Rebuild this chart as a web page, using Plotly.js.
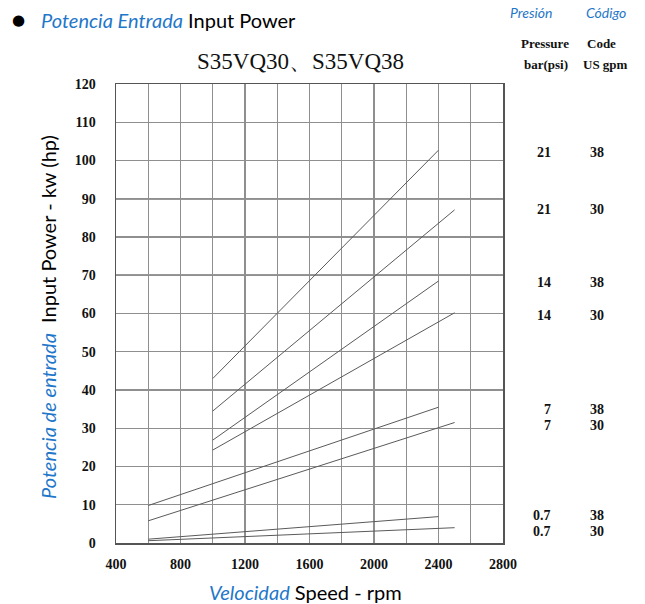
<!DOCTYPE html>
<html>
<head>
<meta charset="utf-8">
<script src="https://cdn.plot.ly/plotly-3.0.1.min.js"></script>
<style>html,body{margin:0;padding:0;background:#fff;}#chart{width:645px;height:604px;}</style>
</head>
<body>
<div id="chart"></div>
<script>
// Speed (rpm) at start and end of each curve
const speedStart = [1000, 1000, 1000, 1000, 600, 600, 600, 600];
const speedEnd   = [2400, 2500, 2400, 2500, 2400, 2500, 2400, 2500];
// Input power (kW) at start and end of each curve
const powerStart = [43, 34.5, 26.9, 24.3, 9.8, 5.8, 1.0, 0.6];
const powerEnd   = [102.7, 87.1, 68.5, 60.2, 35.5, 31.5, 6.9, 4.0];
// Curve labels and their vertical positions (kW) on the right side
const pressureLabels = ['21', '21', '14', '14', '7', '7', '0.7', '0.7'];
const codeLabels     = ['38', '30', '38', '30', '38', '30', '38', '30'];
const labelPower     = [102.2, 87.1, 68, 59.6, 35, 30.6, 7.1, 2.9];
// Axis ticks
const xTicks = [400, 800, 1200, 1600, 2000, 2400, 2800];
const xGrid  = [400, 600, 800, 1000, 1200, 1400, 1600, 1800, 2000, 2200, 2400, 2600, 2800];
const yTicks = [0, 10, 20, 30, 40, 50, 60, 70, 80, 90, 100, 110, 120];
const darkGridY = [70, 90];

const BLUE = '#1f77c9';
const serif = 'Liberation Serif, serif';
const sans = 'Lato, Open Sans, sans-serif';

const traces = pressureLabels.map((p, i) => ({
  type: 'scatter', mode: 'lines',
  x: [speedStart[i], speedEnd[i]],
  y: [powerStart[i], powerEnd[i]],
  line: {color: '#5a5a5a', width: 1},
  name: p + ' bar / ' + codeLabels[i],
  hoverinfo: 'skip'
}));

const annotations = [];
pressureLabels.forEach((p, i) => {
  annotations.push({xref: 'paper', yref: 'y', x: 1.1292, y: labelPower[i], text: p,
    showarrow: false, xanchor: 'right', yanchor: 'middle',
    font: {family: serif, size: 14, color: '#111', weight: 'bold'}});
  annotations.push({xref: 'paper', yref: 'y', x: 1.2421, y: labelPower[i], text: codeLabels[i],
    showarrow: false, xanchor: 'center', yanchor: 'middle',
    font: {family: serif, size: 14, color: '#111', weight: 'bold'}});
});

annotations.push(
  {xref: 'paper', yref: 'paper', x: -0.2532, y: 1.1394, text: '●', showarrow: false,
   xanchor: 'center', yanchor: 'middle', font: {family: 'DejaVu Sans', size: 15, color: '#000'}},
  {xref: 'paper', yref: 'paper', x: -0.1990, y: 1.1394, showarrow: false, xanchor: 'left', yanchor: 'middle',
   text: '<i><span style="color:' + BLUE + '">Potencia Entrada</span></i> Input Power',
   font: {family: sans, size: 20, color: '#000'}},
  {xref: 'paper', yref: 'paper', x: 0.4755, y: 1.050, showarrow: false, xanchor: 'center', yanchor: 'middle',
   text: 'S35VQ30、S35VQ38', font: {family: serif, size: 23, color: '#111'}},
  {xref: 'paper', yref: 'paper', x: 1.0724, y: 1.1547, showarrow: false, xanchor: 'center', yanchor: 'middle',
   text: '<i>Presión</i>', font: {family: sans, size: 14, color: BLUE}},
  {xref: 'paper', yref: 'paper', x: 1.2661, y: 1.1547, showarrow: false, xanchor: 'center', yanchor: 'middle',
   text: '<i>Código</i>', font: {family: sans, size: 14, color: BLUE}},
  {xref: 'paper', yref: 'paper', x: 1.1085, y: 1.0893, showarrow: false, xanchor: 'center', yanchor: 'middle',
   text: 'Pressure', font: {family: serif, size: 13, color: '#111', weight: 'bold'}},
  {xref: 'paper', yref: 'paper', x: 1.1110, y: 1.0414, showarrow: false, xanchor: 'center', yanchor: 'middle',
   text: 'bar(psi)', font: {family: serif, size: 13, color: '#111', weight: 'bold'}},
  {xref: 'paper', yref: 'paper', x: 1.2558, y: 1.0893, showarrow: false, xanchor: 'center', yanchor: 'middle',
   text: 'Code', font: {family: serif, size: 13, color: '#111', weight: 'bold'}},
  {xref: 'paper', yref: 'paper', x: 1.2636, y: 1.0414, showarrow: false, xanchor: 'center', yanchor: 'middle',
   text: 'US gpm', font: {family: serif, size: 13, color: '#111', weight: 'bold'}},
  {xref: 'paper', yref: 'paper', x: -0.1757, y: 0.4924, showarrow: false, xanchor: 'center', yanchor: 'middle',
   textangle: -90,
   text: '<i><span style="color:' + BLUE + '">Potencia de entrada</span></i>&nbsp;&nbsp;Input Power - kw (hp)',
   font: {family: sans, size: 20, color: '#000'}},
  {xref: 'paper', yref: 'paper', x: 0.4884, y: -0.1068, showarrow: false, xanchor: 'center', yanchor: 'middle',
   text: '<i><span style="color:' + BLUE + '">Velocidad</span></i> Speed - rpm',
   font: {family: sans, size: 20, color: '#000'}}
);

const shapes = darkGridY.map(v => ({
  type: 'line', xref: 'paper', yref: 'y', x0: 0, x1: 1, y0: v, y1: v,
  line: {color: '#333', width: 1.3}, layer: 'below'
}));

const layout = {
  width: 645, height: 604,
  margin: {l: 116, r: 142, t: 84, b: 61, pad: 0},
  paper_bgcolor: '#fff', plot_bgcolor: '#fff',
  showlegend: false,
  xaxis: {
    range: [400, 2800],
    showgrid: true, gridcolor: '#8f8f8f', gridwidth: 1.3,
    zeroline: false, showline: true, linecolor: '#555', linewidth: 1.5, mirror: true,
    tickmode: 'array', tickvals: xGrid,
    ticktext: xGrid.map(v => xTicks.includes(v) ? String(v) : ''),
    ticks: '', ticklabelstandoff: 8,
    tickfont: {family: serif, size: 14, color: '#111', weight: 'bold'}
  },
  yaxis: {
    range: [0, 120],
    showgrid: true, gridcolor: '#8f8f8f', gridwidth: 1.3,
    zeroline: false, showline: true, linecolor: '#555', linewidth: 1.5, mirror: true,
    tickmode: 'array', tickvals: yTicks, ticktext: yTicks.map(String),
    ticks: '', ticklabelstandoff: 16,
    tickfont: {family: serif, size: 14, color: '#111', weight: 'bold'}
  },
  annotations: annotations,
  shapes: shapes
};

Plotly.newPlot('chart', traces, layout, {displayModeBar: false, staticPlot: true});
</script>
</body>
</html>
